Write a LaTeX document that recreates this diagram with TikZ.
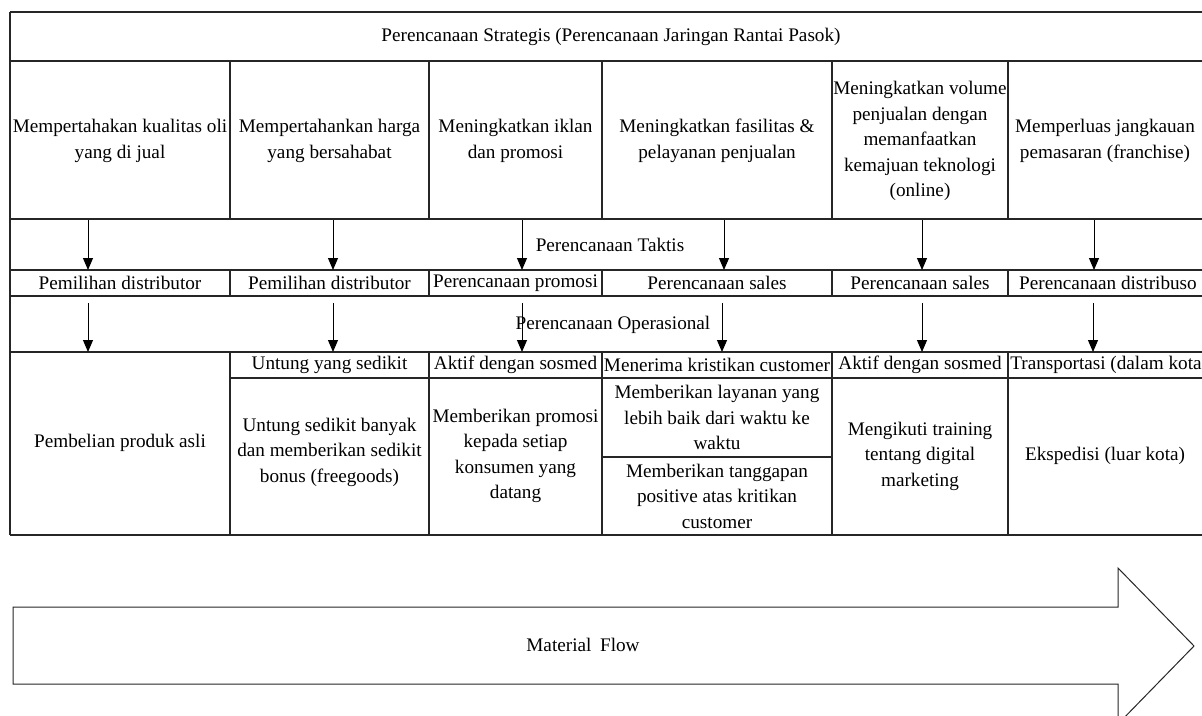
\documentclass[tikz,border=0pt]{standalone}
\usepackage{fontspec}
\setmainfont{Liberation Serif}
\usetikzlibrary{arrows.meta}
\begin{document}
\begin{tikzpicture}[x=1pt,y=-1pt,
  grid/.style={line width=1.1pt,black!85},
  txt/.style={align=center,inner sep=0pt,font=\fontsize{19.2}{25.5}\selectfont},
  flowarrow/.style={-{Triangle[width=10pt,length=12pt]},line width=1pt},
  bigarrow/.style={line width=1pt,black!85,fill=white}]
\clip (0,0) rectangle (1202,715);
\fill[white] (0,0) rectangle (1202,715);
% table lines
\foreach \y in {12,61,219,270,296,352,535}
  \draw[grid] (10,\y) -- (1210,\y);
\draw[grid] (230,378) -- (1210,378);
\draw[grid] (602,457) -- (832,457);
\draw[grid] (10,12) -- (10,535);
\foreach \x in {230,429,602,832,1008}{
  \draw[grid] (\x,61) -- (\x,219);
  \draw[grid] (\x,270) -- (\x,296);
  \draw[grid] (\x,352) -- (\x,535);
}
% title
\node[txt] (title) at (611,37) {Perencanaan Strategis (Perencanaan Jaringan Rantai Pasok)};
% strategic row
\node[txt] (s1) at (120,141) {Mempertahakan kualitas oli\\yang di jual};
\node[txt] (s2) at (329.5,141) {Mempertahankan harga\\yang bersahabat};
\node[txt] (s3) at (515.5,141) {Meningkatkan iklan\\dan promosi};
\node[txt] (s4) at (717,141) {Meningkatkan fasilitas \&\\pelayanan penjualan};
\node[txt] (s5) at (920,141) {Meningkatkan volume\\penjualan dengan\\memanfaatkan\\kemajuan teknologi\\(online)};
\node[txt] (s6) at (1105,141) {Memperluas jangkauan\\pemasaran (franchise)};
% band labels
\node[txt] (taktis) at (610,245) {Perencanaan Taktis};
\node[txt] (oper) at (613,325) {Perencanaan Operasional};
% tactical row
\node[txt] (t1) at (120,283) {Pemilihan distributor};
\node[txt] (t2) at (329.5,283) {Pemilihan distributor};
\node[txt] (t3) at (515.5,283) {Perencanaan promosi};
\node[txt] (t4) at (717,283) {Perencanaan sales};
\node[txt] (t5) at (920,283) {Perencanaan sales};
\node[txt] (t6) at (1108,283) {Perencanaan distribuso};
% operational row
\node[txt] (o1) at (120,443) {Pembelian produk asli};
\node[txt] (o2a) at (329.5,365) {Untung yang sedikit};
\node[txt] (o2b) at (329.5,452) {Untung sedikit banyak\\dan memberikan sedikit\\bonus (freegoods)};
\node[txt] (o3a) at (515.5,365) {Aktif dengan sosmed};
\node[txt] (o3b) at (515.5,456) {Memberikan promosi\\kepada setiap\\konsumen yang\\datang};
\node[txt] (o4a) at (717,365) {Menerima kristikan customer};
\node[txt] (o4b) at (717,417.5) {Memberikan layanan yang\\lebih baik dari waktu ke\\waktu};
\node[txt] (o4c) at (717,496) {Memberikan tanggapan\\positive atas kritikan\\customer};
\node[txt] (o5a) at (920,365) {Aktif dengan sosmed};
\node[txt] (o5b) at (920,456) {Mengikuti training\\tentang digital\\marketing};
\node[txt] (o6a) at (1106,365) {Transportasi (dalam kota};
\node[txt] (o6b) at (1105,456) {Ekspedisi (luar kota)};
% arrow coordinates
\foreach \i/\xa/\xb in {1/88/88,2/333/333,3/522/522,4/724/722,5/922/922,6/1094/1093}{
  \coordinate (a\i s) at (\xa,220);
  \coordinate (a\i e) at (\xa,270);
  \coordinate (b\i s) at (\xb,303);
  \coordinate (b\i e) at (\xb,352);
}
\foreach \i in {1,...,6}{
  \draw[flowarrow] (a\i s) -- (a\i e);
  \draw[flowarrow] (b\i s) -- (b\i e);
}
% material flow arrow
\draw[bigarrow] (13,607) -- (1118,607) -- (1118,568) -- (1194,646) -- (1118,724) -- (1118,684) -- (13,684) -- cycle;
\node[txt] (mflow) at (583,645) {Material\hspace{0.45em}Flow};
\end{tikzpicture}
\end{document}
